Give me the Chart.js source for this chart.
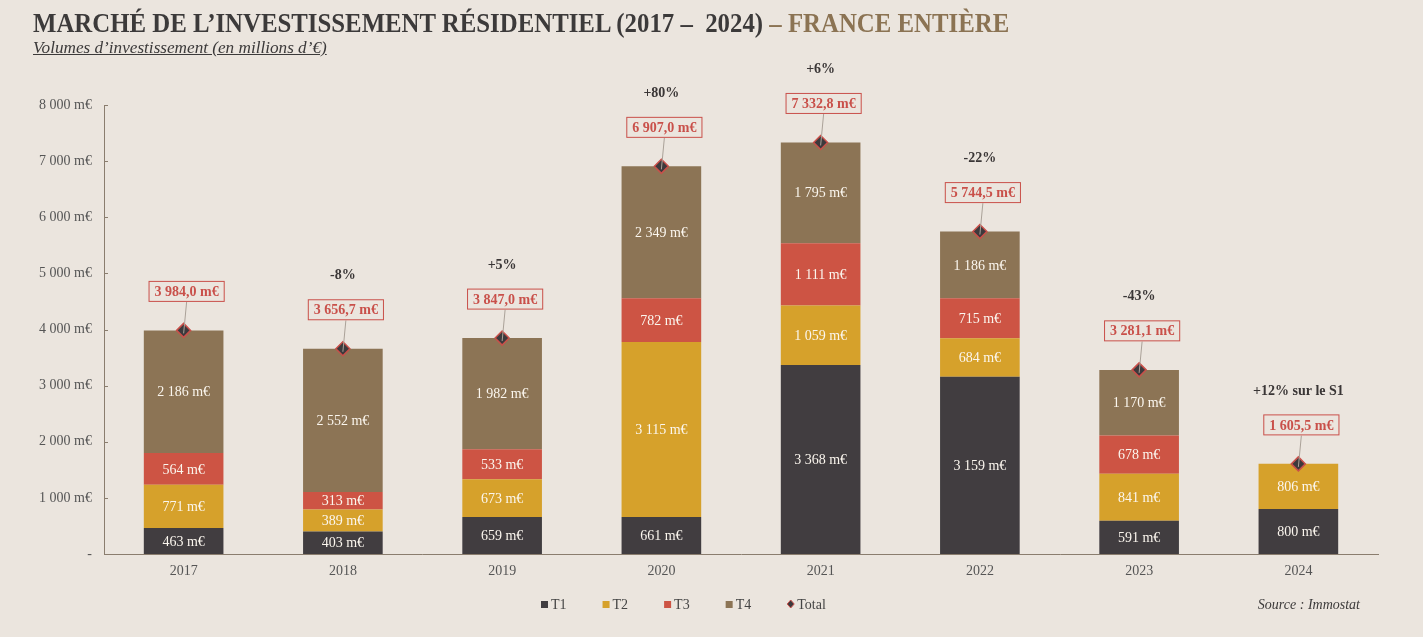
<!DOCTYPE html>
<html lang="fr">
<head>
<meta charset="utf-8">
<title>Marché de l'investissement résidentiel</title>
<script src="https://cdn.jsdelivr.net/npm/chart.js@4.4.1/dist/chart.umd.min.js"></script>
<style>
  html, body { margin: 0; padding: 0; background: #ebe5de; }
  #wrap { position: relative; width: 1423px; height: 637px; overflow: hidden; }
  #chart { position: absolute; left: 0; top: 0; }
  .head { position: absolute; left: 33px; white-space: nowrap; transform-origin: 0 0;
          font-family: 'Liberation Serif', serif; color: #3c3a3a; }
  #title { top: 8px; font-size: 27px; font-weight: bold; }
  #title .accent { color: #8b7353; }
  #subtitle { top: 39px; font-size: 16px; font-style: italic; text-decoration: underline; }
</style>
</head>
<body>
<div id="wrap">
  <canvas id="chart" width="1423" height="637"></canvas>
  <div id="title" class="head">MARCHÉ DE L’INVESTISSEMENT RÉSIDENTIEL (2017 –&nbsp; 2024) <span class="accent">– FRANCE ENTIÈRE</span></div>
  <div id="subtitle" class="head">Volumes d’investissement (en millions d’€)</div>
</div>
<script>
// données (millions d'€)
const years = ['2017', '2018', '2019', '2020', '2021', '2022', '2023', '2024'];
const t1 = [463, 403, 659, 661, 3368, 3159, 591, 800];
const t2 = [771, 389, 673, 3115, 1059, 684, 841, 806];
const t3 = [564, 313, 533, 782, 1111, 715, 678, null];
const t4 = [2186, 2552, 1982, 2349, 1795, 1186, 1170, null];
const totals = [3984.0, 3656.7, 3847.0, 6907.0, 7332.8, 5744.5, 3281.1, 1605.5];
const growth = ['', '-8%', '+5%', '+80%', '+6%', '-22%', '-43%', '+12% sur le S1'];
const yTicks = [0, 1000, 2000, 3000, 4000, 5000, 6000, 7000, 8000];

const colors = { t1: '#413d40', t2: '#d6a12b', t3: '#cd5444', t4: '#8c7455', red: '#c9504a' };
const FONT = "'Liberation Serif', serif";

// espace comme séparateur de milliers, virgule décimale
function fmt(v, dec) {
    const s = v.toFixed(dec || 0).split('.');
    const ent = s[0].replace(/\B(?=(\d{3})+(?!\d))/g, ' ');
    return s.length > 1 ? ent + ',' + s[1] : ent;
}

// fit the condensed title widths
function fitHead(id, w) {
    const el = document.getElementById(id);
    el.style.transform = 'scaleX(' + (w / el.offsetWidth) + ')';
}
fitHead('title', 976);
fitHead('subtitle', 294);

const labelsPlugin = {
    id: 'labelsPlugin',
    afterDatasetsDraw(chart) {
        const ctx = chart.ctx;
        ctx.save();
        ctx.textAlign = 'center';
        ctx.textBaseline = 'middle';

        // valeurs dans les segments
        ctx.font = '14px ' + FONT;
        ctx.fillStyle = '#fbf6ee';
        [t1, t2, t3, t4].forEach((vals, di) => {
            chart.getDatasetMeta(di).data.forEach((bar, i) => {
                if (vals[i] == null) return;
                ctx.fillText(fmt(vals[i]) + ' m€', bar.x, (bar.y + bar.base) / 2 + 1);
            });
        });

        // total + variation
        chart.getDatasetMeta(4).data.forEach((pt, i) => {
            const txt = fmt(totals[i], 1) + ' m€';
            ctx.font = 'bold 14px ' + FONT;
            const w = ctx.measureText(txt).width + 12;
            const h = 21;
            const bx = pt.x + 3;
            const by = pt.y - 39;

            ctx.strokeStyle = '#aaa198';
            ctx.lineWidth = 1;
            ctx.beginPath();
            ctx.moveTo(pt.x, pt.y + 3);
            ctx.lineTo(bx, by + h / 2);
            ctx.stroke();

            ctx.fillStyle = '#ebe5de';
            ctx.fillRect(bx - w / 2, by - h / 2, w, h);
            ctx.strokeStyle = colors.red;
            ctx.strokeRect(bx - w / 2 + 0.5, by - h / 2 + 0.5, w - 1, h - 1);
            ctx.fillStyle = colors.red;
            ctx.fillText(txt, bx, by + 1);

            if (growth[i]) {
                ctx.fillStyle = '#3a3636';
                ctx.fillText(growth[i], pt.x, by - 34);
            }
        });

        // petits traits de graduation à droite de l'axe
        const ys = chart.scales.y;
        ctx.strokeStyle = '#8a7d6e';
        ctx.lineWidth = 1;
        yTicks.forEach(v => {
            const py = Math.round(ys.getPixelForValue(v)) + 0.5;
            ctx.beginPath();
            ctx.moveTo(ys.right, py);
            ctx.lineTo(ys.right + 4, py);
            ctx.stroke();
        });
        ctx.restore();
    },
    afterDraw(chart) {
        // légende + source
        const ctx = chart.ctx;
        const items = [
            { text: 'T1', color: colors.t1 },
            { text: 'T2', color: colors.t2 },
            { text: 'T3', color: colors.t3 },
            { text: 'T4', color: colors.t4 },
            { text: 'Total', color: '#3d393c', diamond: true }
        ];
        ctx.save();
        ctx.font = '14px ' + FONT;
        ctx.textBaseline = 'middle';
        ctx.textAlign = 'left';
        let x = 541;
        const y = 604;
        items.forEach(it => {
            ctx.fillStyle = it.color;
            if (it.diamond) {
                ctx.beginPath();
                ctx.moveTo(x + 3.5, y - 4);
                ctx.lineTo(x + 7, y);
                ctx.lineTo(x + 3.5, y + 4);
                ctx.lineTo(x, y);
                ctx.closePath();
                ctx.fill();
                ctx.strokeStyle = colors.red;
                ctx.lineWidth = 1;
                ctx.stroke();
            } else {
                ctx.fillRect(x, y - 3, 7, 7);
            }
            ctx.fillStyle = '#444';
            ctx.fillText(it.text, x + 10, y + 1);
            x += 10 + ctx.measureText(it.text).width + 36;
        });
        ctx.font = 'italic 14px ' + FONT;
        ctx.textAlign = 'right';
        ctx.fillStyle = '#3c3a3a';
        ctx.fillText('Source : Immostat', 1360, y + 1);
        ctx.restore();
    }
};

const barSet = (label, data, color) => ({
    label: label,
    data: data,
    backgroundColor: color,
    stack: 'bars',
    order: 1,
    barPercentage: 0.5,
    categoryPercentage: 1
});

new Chart(document.getElementById('chart'), {
    type: 'bar',
    data: {
        labels: years,
        datasets: [
            barSet('T1', t1, colors.t1),
            barSet('T2', t2, colors.t2),
            barSet('T3', t3, colors.t3),
            barSet('T4', t4, colors.t4),
            {
                type: 'line',
                label: 'Total',
                data: totals,
                stack: 'total',
                order: -1,
                showLine: false,
                pointStyle: 'rectRot',
                pointRadius: 7,
                pointBackgroundColor: '#3d393c',
                pointBorderColor: colors.red,
                pointBorderWidth: 1.5
            }
        ]
    },
    options: {
        responsive: false,
        animation: false,
        layout: { padding: { left: 0, right: 45, top: 105, bottom: 0 } },
        plugins: {
            legend: { display: false },
            tooltip: { enabled: false }
        },
        scales: {
            x: {
                stacked: true,
                grid: { display: false, drawTicks: false },
                border: { display: true, color: '#8a7d6e', width: 1 },
                ticks: { color: '#555', font: { family: FONT, size: 14 }, padding: 9 },
                afterFit: s => { s.height = 83; }
            },
            y: {
                stacked: true,
                min: 0,
                max: 8000,
                grid: { display: false, drawTicks: false },
                border: { display: true, color: '#8a7d6e', width: 1 },
                afterBuildTicks: s => { s.ticks = yTicks.map(v => ({ value: v })); },
                ticks: {
                    color: '#555',
                    padding: 12,
                    font: { family: FONT, size: 14 },
                    callback: v => v === 0 ? '-' : fmt(v) + ' m€'
                },
                afterFit: s => { s.width = 104; }
            }
        }
    },
    plugins: [labelsPlugin]
});
</script>
</body>
</html>
